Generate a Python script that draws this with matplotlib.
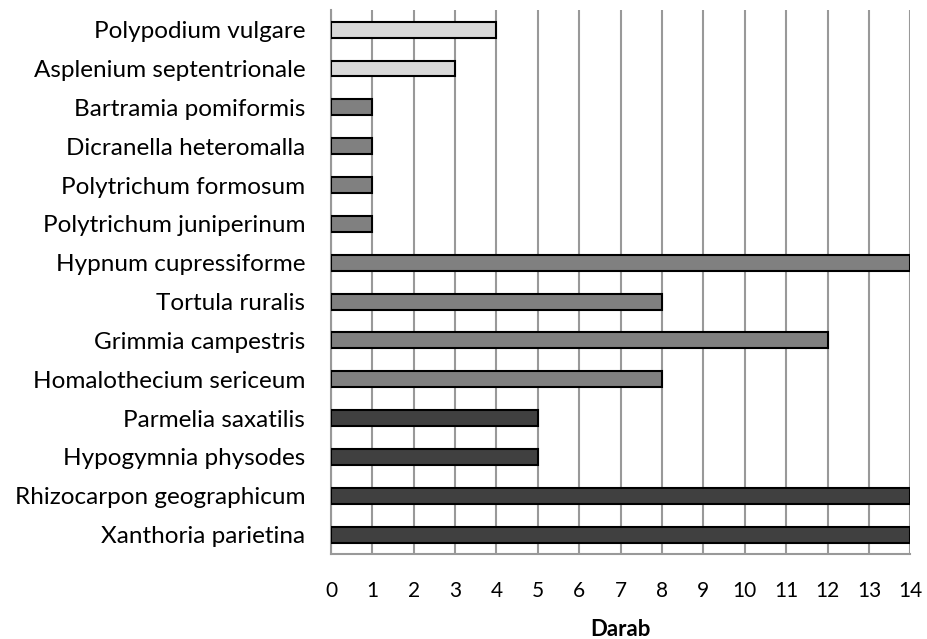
import matplotlib
matplotlib.use("Agg")
import matplotlib.pyplot as plt
import numpy as np

plt.rcParams['font.family'] = ['Lato', 'DejaVu Sans']

# fajok alulrol felfele
fajok = ["Xanthoria parietina", "Rhizocarpon geographicum", "Hypogymnia physodes",
         "Parmelia saxatilis", "Homalothecium sericeum", "Grimmia campestris",
         "Tortula ruralis", "Hypnum cupressiforme", "Polytrichum juniperinum",
         "Polytrichum formosum", "Dicranella heteromalla", "Bartramia pomiformis",
         "Asplenium septentrionale", "Polypodium vulgare"]
darab = [14, 14, 5, 5, 8, 12, 8, 14, 1, 1, 1, 1, 3, 4]
csoport = ["zuzmo"] * 4 + ["moha"] * 8 + ["paprika"] * 2
szinek = {"zuzmo": "#404040", "moha": "#808080", "paprika": "#d9d9d9"}

fig = plt.figure(figsize=(9.27, 6.39), dpi=100)
ax = fig.add_axes([0.357, 0.133, 0.625, 0.851])

y = np.arange(len(fajok))
ax.barh(y, darab, height=0.41, color=[szinek[c] for c in csoport],
        edgecolor="black", linewidth=1.5, zorder=3)

ax.set_xlim(0, 14)
ax.set_ylim(-0.5, len(fajok) - 0.5)
ax.set_xticks(range(0, 15))
ax.set_yticks(y)
ax.set_yticklabels(fajok, fontsize=17.5)
ax.tick_params(axis="y", length=0, pad=18.5)
ax.tick_params(axis="x", length=0, pad=19.5, labelsize=15)
ax.grid(axis="x", color="#999999", linewidth=1.5, zorder=0)
for s in ["top", "right"]:
    ax.spines[s].set_visible(False)
for s in ["left", "bottom"]:
    ax.spines[s].set_color("#999999")
    ax.spines[s].set_linewidth(1.5)
ax.set_xlabel("Darab", fontsize=16, fontweight="bold", labelpad=13)

fig.savefig("out.png", dpi=100)
